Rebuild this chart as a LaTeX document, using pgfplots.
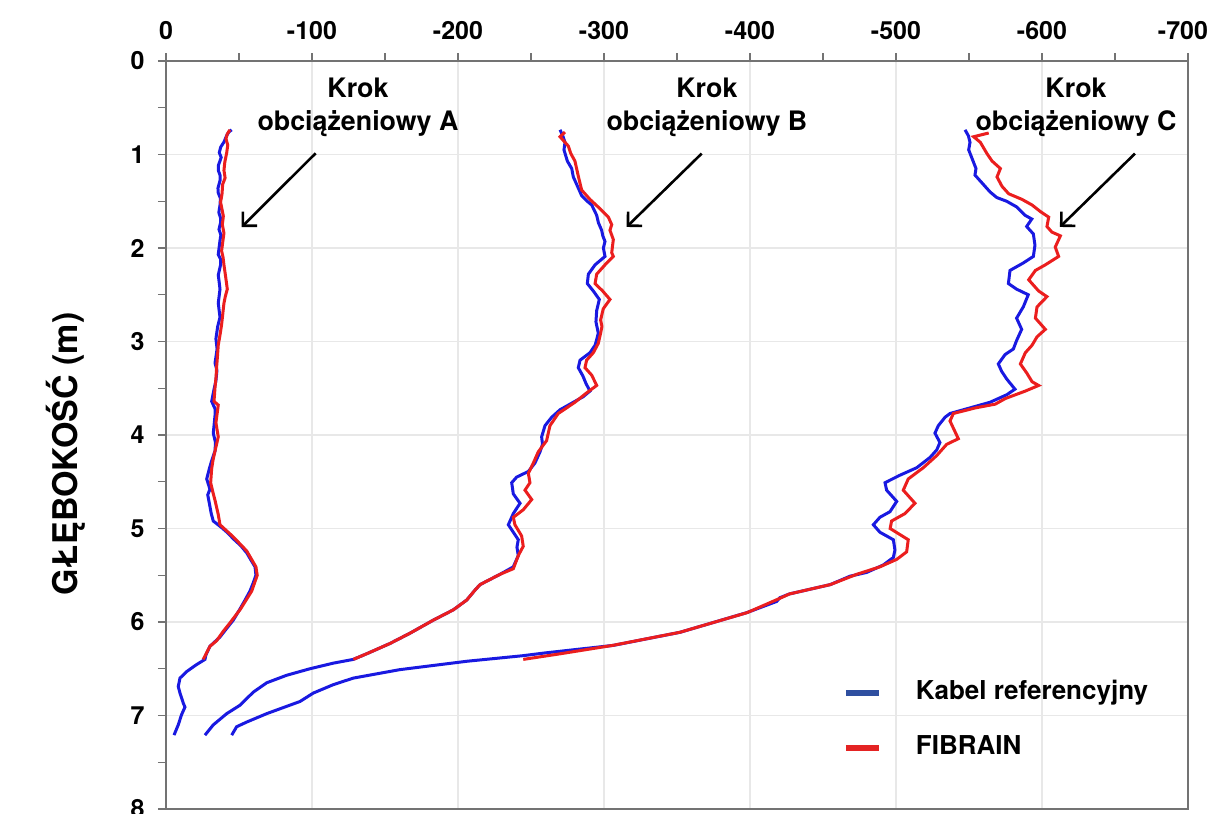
\documentclass[border=0pt]{standalone}
\usepackage{fontspec}
\setmainfont{TeX Gyre Heros}
\usepackage{pgfplots}
\pgfplotsset{compat=1.18}
\usetikzlibrary{arrows.meta,calc}
\definecolor{lblue}{RGB}{25,25,225}
\definecolor{lred}{RGB}{235,30,30}
\definecolor{legblue}{RGB}{47,79,160}
\definecolor{legred}{RGB}{228,35,35}
\definecolor{gridc}{RGB}{232,232,232}
\definecolor{axc}{RGB}{115,115,115}
\begin{document}
\begin{tikzpicture}
\begin{axis}[
  name=ax,
  scale only axis, width=511pt, height=374pt,
  xmin=-700, xmax=0, ymin=0, ymax=8,
  x dir=reverse, y dir=reverse,
  xtick={0,-100,-200,-300,-400,-500,-600,-700},
  xticklabels={0,-100,-200,-300,-400,-500,-600,\hspace*{-5pt}-700},
  minor xtick={-50,-150,-250,-350,-450,-550,-650},
  ytick={0,1,2,3,4,5,6,7,8},
  yticklabels={0,1,2,3,4,5,6,7,8},
  minor ytick={0.5,1.5,2.5,3.5,4.5,5.5,6.5,7.5},
  xtick pos=right, xticklabel pos=right,
  ytick pos=left, yticklabel pos=left,
  tick align=outside,
  major tick length=4pt, minor tick length=4pt,
  grid=major, grid style={gridc, line width=0.7pt},
  axis line style={axc, line width=0.7pt},
  tick style={axc, line width=0.7pt},
  ticklabel style={font=\bfseries\fontsize{12.5}{15}\selectfont},
  xticklabel style={yshift=3.2pt},
  yticklabel style={xshift=-3.2pt},
  clip=false,
  legend cell align=left,
  legend style={at={(axis description cs:0.6624,0.170)}, anchor=north west,
    draw=none, fill=none, inner sep=0pt, outer sep=0pt,
    font=\bfseries\fontsize{13}{15}\selectfont,
    row sep=16pt, column sep=17pt,
    nodes={inner sep=0pt, text height=9pt, text depth=2.5pt}},
  legend image code/.code={\draw[#1] (0pt,0pt) -- (16.5pt,0pt);},
]
\addlegendimage{legblue, line width=3pt}
\addlegendentry{Kabel referencyjny}
\addlegendimage{legred, line width=3pt}
\addlegendentry{FIBRAIN}

% ---- Krok A, reference cable
\addplot[forget plot, lblue, line width=1.5pt] coordinates {
(-45.0,0.736) (-43.0,0.76) (-41.5,0.80) (-39.7,0.867) (-37.5,0.92) (-36.5,0.98) (-37.8,1.03)
(-37.2,1.06) (-35.8,1.12) (-35.8,1.168) (-37.0,1.22) (-37.0,1.28) (-35.6,1.36) (-35.8,1.41)
(-37.3,1.47) (-37.0,1.54) (-36.2,1.62) (-37.4,1.68) (-37.4,1.73) (-36.3,1.80) (-37.6,1.86)
(-37.0,1.92) (-35.8,2.07) (-37.4,2.12) (-37.4,2.18) (-35.8,2.29) (-36.4,2.36) (-37.0,2.44)
(-35.8,2.59) (-37.0,2.74) (-35.4,2.84) (-34.2,2.97) (-35.0,3.08) (-33.6,3.23) (-34.9,3.31)
(-34.2,3.42) (-32.8,3.52) (-31.3,3.64) (-33.6,3.72) (-33.6,3.79) (-32.4,3.98) (-33.9,4.08)
(-33.6,4.17) (-31.2,4.28) (-29.7,4.36) (-27.9,4.47) (-30.1,4.58) (-28.6,4.64) (-29.7,4.73)
(-31.0,4.84) (-32.4,4.92) (-38.1,4.99) (-42.5,5.05) (-46.1,5.11) (-51.0,5.18) (-55.3,5.26)
(-58.3,5.34) (-61.0,5.41) (-61.6,5.50) (-59.8,5.58) (-57.5,5.67) (-54.0,5.77) (-50.7,5.86)
(-46.1,5.98) (-41.5,6.07) (-37.0,6.16) (-30.1,6.26) (-27.4,6.35) (-26.7,6.40) (-20.5,6.46)
(-14.2,6.53) (-9.6,6.60) (-8.4,6.69) (-9.6,6.76) (-11.9,6.87) (-13.0,6.91) (-10.7,6.99)
(-8.4,7.10) (-5.5,7.21)};
% ---- Krok A, FIBRAIN
\addplot[forget plot, lred, line width=1.5pt] coordinates {
(-43.8,0.736) (-42.0,0.78) (-41.1,0.83) (-42.3,0.90) (-41.6,0.98) (-40.3,1.08) (-39.7,1.17)
(-40.5,1.25) (-38.8,1.32) (-38.4,1.42) (-37.4,1.51) (-39.3,1.66) (-38.6,1.75) (-39.7,1.84)
(-38.1,2.03) (-39.1,2.10) (-39.7,2.18) (-40.8,2.30) (-42.0,2.44) (-40.6,2.52) (-39.7,2.59)
(-38.1,2.82) (-37.0,2.93) (-35.8,3.04) (-35.3,3.15) (-34.7,3.27) (-34.3,3.38) (-33.6,3.49)
(-32.9,3.64) (-35.8,3.68) (-34.2,3.87) (-35.8,4.02) (-33.6,4.17) (-32.2,4.27) (-31.3,4.36)
(-30.6,4.51) (-32.1,4.61) (-33.6,4.70) (-35.8,4.85) (-37.0,4.96) (-46.1,5.09) (-55.3,5.24)
(-61.6,5.41) (-62.5,5.50) (-58.7,5.67) (-51.1,5.86) (-43.8,6.01) (-39.2,6.10) (-34.7,6.20)
(-30.1,6.26) (-25.5,6.40)};

% ---- Krok B, reference cable
\addplot[forget plot, lblue, line width=1.5pt] coordinates {
(-269.9,0.736) (-271.8,0.80) (-273.3,0.87) (-272.6,0.95) (-274.9,1.07) (-277.9,1.15)
(-279.0,1.24) (-281.3,1.32) (-284.7,1.44) (-288.5,1.50) (-291.6,1.54) (-295.0,1.65)
(-296.2,1.73) (-298.4,1.81) (-299.2,1.87) (-300.7,1.93) (-299.6,2.00) (-300.7,2.09)
(-293.9,2.18) (-289.3,2.28) (-288.6,2.38) (-292.7,2.46) (-296.8,2.55) (-295.0,2.67)
(-294.5,2.79) (-296.1,2.91) (-295.0,2.98) (-293.9,3.04) (-290.4,3.12) (-283.6,3.20)
(-282.4,3.28) (-285.6,3.37) (-287.7,3.45) (-290.4,3.53) (-285.8,3.59) (-279.0,3.65)
(-269.9,3.73) (-264.2,3.81) (-259.6,3.90) (-257.3,4.02) (-257.9,4.10) (-256.2,4.18)
(-252.7,4.30) (-248.2,4.39) (-240.2,4.45) (-236.8,4.51) (-237.9,4.63) (-242.5,4.73)
(-237.9,4.84) (-234.5,4.96) (-237.9,5.04) (-241.3,5.12) (-240.4,5.20) (-241.3,5.29)
(-237.9,5.41) (-228.8,5.49) (-215.1,5.60) (-211.6,5.66) (-206.0,5.765) (-196.8,5.87)
(-183.1,5.98) (-167.1,6.12) (-153.4,6.23) (-137.4,6.34) (-128.3,6.40) (-114.6,6.44)
(-98.6,6.50) (-82.6,6.57) (-69.0,6.65) (-59.8,6.75) (-50.7,6.89) (-41.6,6.98)
(-32.4,7.10) (-26.7,7.21)};
% ---- Krok B, FIBRAIN
\addplot[forget plot, lred, line width=1.5pt] coordinates {
(-273.3,0.76) (-269.9,0.81) (-275.6,0.91) (-277.3,0.99) (-280.1,1.07) (-282.4,1.23)
(-284.7,1.38) (-290.4,1.48) (-297.3,1.58) (-303.0,1.67) (-305.3,1.75) (-304.1,1.81)
(-306.4,1.91) (-305.3,2.05) (-306.4,2.09) (-300.7,2.18) (-295.0,2.28) (-293.9,2.38)
(-299.1,2.46) (-304.1,2.55) (-299.5,2.65) (-297.7,2.77) (-298.6,2.84) (-297.7,2.91)
(-296.1,3.02) (-292.7,3.12) (-288.1,3.20) (-287.0,3.28) (-291.6,3.36) (-295.0,3.47)
(-288.1,3.55) (-280.1,3.65) (-268.7,3.77) (-263.0,3.90) (-260.7,4.06) (-255.0,4.18)
(-251.6,4.30) (-248.2,4.41) (-249.3,4.51) (-245.9,4.59) (-250.5,4.69) (-244.7,4.80)
(-237.9,4.88) (-239.0,4.96) (-243.6,5.08) (-244.7,5.19) (-241.3,5.29) (-237.9,5.43)
(-228.8,5.49) (-215.1,5.60) (-211.6,5.66) (-206.0,5.765) (-196.8,5.87) (-183.1,5.98)
(-167.1,6.12) (-153.4,6.23) (-137.4,6.34) (-128.3,6.40)};

% ---- Krok C, reference cable
\addplot[forget plot, lblue, line width=1.5pt] coordinates {
(-547.3,0.736) (-549.6,0.80) (-550.7,0.87) (-549.8,0.95) (-551.8,1.03) (-554.8,1.15)
(-554.1,1.22) (-558.7,1.30) (-564.4,1.40) (-569.0,1.46) (-575.8,1.50) (-582.6,1.56)
(-588.4,1.65) (-593.0,1.69) (-589.5,1.77) (-594.1,1.85) (-595.2,1.97) (-594.1,2.09)
(-587.2,2.16) (-578.1,2.24) (-577.0,2.38) (-582.6,2.44) (-590.6,2.50) (-587.2,2.63)
(-582.6,2.75) (-586.1,2.87) (-582.6,2.99) (-580.4,3.08) (-574.7,3.14) (-570.1,3.24)
(-572.4,3.32) (-575.8,3.40) (-581.5,3.51) (-575.8,3.57) (-564.4,3.65) (-550.7,3.71)
(-537.0,3.77) (-533.6,3.81) (-529.0,3.90) (-526.7,3.98) (-530.1,4.08) (-527.9,4.16)
(-523.3,4.24) (-514.2,4.35) (-502.7,4.43) (-492.5,4.51) (-493.6,4.59) (-500.5,4.71)
(-495.9,4.82) (-489.0,4.88) (-484.5,4.96) (-489.0,5.04) (-498.2,5.12) (-499.3,5.23)
(-498.2,5.31) (-491.3,5.39) (-479.9,5.47) (-468.5,5.51) (-455.0,5.60) (-427.0,5.70)
(-420.5,5.74) (-418.3,5.78) (-397.8,5.90) (-352.1,6.11) (-306.4,6.25) (-260.0,6.33)
(-244.7,6.36) (-206.0,6.42) (-160.0,6.51) (-128.3,6.60) (-114.6,6.67) (-100.9,6.76)
(-91.8,6.85) (-69.0,6.98) (-55.3,7.07) (-48.4,7.12) (-45.0,7.21)};
% ---- Krok C, FIBRAIN
\addplot[forget plot, lred, line width=1.5pt] coordinates {
(-563.5,0.77) (-553.2,0.81) (-557.8,0.87) (-562.3,0.99) (-565.8,1.07) (-571.5,1.15)
(-569.2,1.24) (-572.6,1.34) (-577.2,1.42) (-586.3,1.48) (-593.2,1.54) (-598.9,1.61)
(-604.6,1.67) (-603.4,1.77) (-606.8,1.83) (-612.6,1.87) (-609.1,1.99) (-611.4,2.09)
(-602.3,2.18) (-595.5,2.24) (-590.9,2.34) (-597.7,2.46) (-603.4,2.52) (-596.6,2.63)
(-595.5,2.75) (-602.3,2.87) (-596.6,2.95) (-593.2,3.04) (-588.6,3.12) (-585.2,3.24)
(-589.7,3.34) (-593.2,3.43) (-597.7,3.47) (-588.6,3.53) (-574.9,3.61) (-568.0,3.67)
(-554.4,3.71) (-539.3,3.77) (-537.0,3.85) (-542.7,4.04) (-534.7,4.10) (-527.9,4.22)
(-518.7,4.35) (-508.4,4.47) (-505.0,4.59) (-513.0,4.73) (-506.2,4.84) (-497.0,4.92)
(-496.0,5.00) (-508.4,5.12) (-507.3,5.25) (-500.5,5.33) (-489.0,5.41) (-473.1,5.49)
(-455.0,5.60) (-427.0,5.70) (-420.0,5.75) (-398.0,5.90) (-352.0,6.11) (-306.0,6.25)
(-270.0,6.34) (-244.7,6.40)};

% ---- annotations
\node[anchor=base, font=\bfseries\fontsize{13.4}{15}\selectfont] at (axis cs:-131.5,0.388) {Krok};
\node[anchor=base, font=\bfseries\fontsize{13.4}{15}\selectfont] at (axis cs:-131.5,0.745) {obciążeniowy A};
\node[anchor=base, font=\bfseries\fontsize{13.4}{15}\selectfont] at (axis cs:-370.5,0.388) {Krok};
\node[anchor=base, font=\bfseries\fontsize{13.4}{15}\selectfont] at (axis cs:-370.5,0.745) {obciążeniowy B};
\node[anchor=base, font=\bfseries\fontsize{13.4}{15}\selectfont] at (axis cs:-623.3,0.388) {Krok};
\node[anchor=base, font=\bfseries\fontsize{13.4}{15}\selectfont] at (axis cs:-623.3,0.745) {obciążeniowy C};
\draw[line width=1.3pt, -{Straight Barb[length=5pt,width=10pt]}] (axis cs:-102.5,0.987) -- (axis cs:-51.8,1.776);
\draw[line width=1.3pt, -{Straight Barb[length=5pt,width=10pt]}] (axis cs:-366.9,0.990) -- (axis cs:-315.5,1.775);
\draw[line width=1.3pt, -{Straight Barb[length=5pt,width=10pt]}] (axis cs:-663.7,0.990) -- (axis cs:-612.3,1.775);
\end{axis}
\node[rotate=90, font=\bfseries\fontsize{17}{19}\selectfont] at ($(ax.south west)+(-50pt,177.5pt)$) {GŁĘBOKOŚĆ (m)};
\pgfresetboundingbox
\useasboundingbox ($(ax.south west)+(-83pt,-2.5pt)$) rectangle ($(ax.south west)+(523pt,404.5pt)$);
\end{tikzpicture}
\end{document}
